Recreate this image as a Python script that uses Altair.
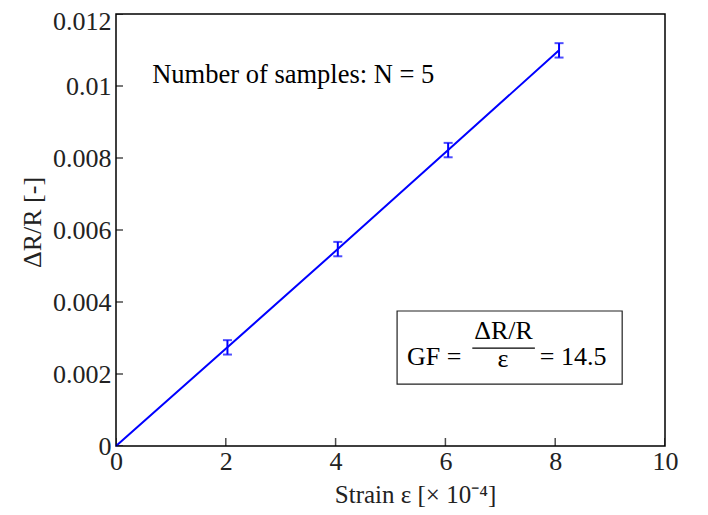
import altair as alt
import pandas as pd

# data
strain = [0, 2.03, 4.04, 6.05, 8.07]
dr_r = [0.0, 0.00274, 0.00547, 0.00822, 0.01099]
err = [0.0, 0.0002, 0.0002, 0.0002, 0.0002]

x_ticks = [0, 2, 4, 6, 8, 10]
y_ticks = [0, 0.002, 0.004, 0.006, 0.008, 0.010, 0.012]

FONT = "Liberation Serif"
BLUE = "#0000ff"

df = pd.DataFrame({"x": strain, "y": dr_r, "e": err})
df["lo"] = df["y"] - df["e"]
df["hi"] = df["y"] + df["e"]
pts = df[df["e"] > 0]

xs = alt.Scale(domain=[0, 10], nice=False, zero=False)
ys = alt.Scale(domain=[0, 0.012], nice=False, zero=False)

x_axis = alt.Axis(values=x_ticks, format="d", ticks=False, tickSize=0, grid=False,
                  labelFont=FONT, labelFontSize=26, labelColor="#222", labelPadding=2,
                  labelFlush=False, labelOverlap=False,
                  title="Strain ε [× 10⁻⁴]", titleFont=FONT, titleFontSize=25,
                  titleFontWeight="normal", titleColor="#222", titlePadding=8,
                  titleX=299, titleAlign="center",
                  domain=False)
y_axis = alt.Axis(values=y_ticks, format="~g", ticks=False, tickSize=0, grid=False,
                  labelFont=FONT, labelFontSize=26, labelColor="#222", labelPadding=5,
                  labelFlush=False, labelOverlap=False,
                  labelOffset={"condition": {"test": "datum.value >= 0.0119", "value": 7}, "value": 0},
                  title="ΔR/R [-]", titleFont=FONT, titleFontSize=26,
                  titleFontWeight="normal", titleColor="#222", titlePadding=7,
                  titleY=208, titleAlign="center",
                  domain=False)

base = alt.Chart(df)

line = base.mark_line(color=BLUE, strokeWidth=2).encode(
    x=alt.X("x:Q", scale=xs, axis=x_axis),
    y=alt.Y("y:Q", scale=ys, axis=y_axis),
)

ebar = alt.Chart(pts).mark_rule(color=BLUE, strokeWidth=2).encode(
    x=alt.X("x:Q", scale=xs), y=alt.Y("lo:Q", scale=ys), y2="hi:Q"
)
cap_lo = alt.Chart(pts).mark_tick(color=BLUE, orient="horizontal", size=9, thickness=2).encode(
    x=alt.X("x:Q", scale=xs), y=alt.Y("lo:Q", scale=ys)
)
cap_hi = alt.Chart(pts).mark_tick(color=BLUE, orient="horizontal", size=9, thickness=2).encode(
    x=alt.X("x:Q", scale=xs), y=alt.Y("hi:Q", scale=ys)
)

xt = alt.Chart(pd.DataFrame({"t": x_ticks})).mark_tick(
    color="black", orient="vertical", size=16, thickness=1.5, clip=True
).encode(x=alt.X("t:Q", scale=xs), y=alt.datum(0, scale=ys))
yt = alt.Chart(pd.DataFrame({"t": y_ticks})).mark_tick(
    color="black", orient="horizontal", size=14, thickness=1.5, clip=True
).encode(y=alt.Y("t:Q", scale=ys), x=alt.datum(0, scale=xs))

ann = alt.Chart(pd.DataFrame({"a": [0]}))

samples = ann.mark_text(font=FONT, fontSize=26.5, align="left", baseline="alphabetic",
                        color="black", text="Number of samples: N = 5").encode(
    x=alt.datum(0.66), y=alt.datum(0.01008))

box = ann.mark_rect(fill="white", stroke="#222", strokeWidth=1.2).encode(
    x=alt.datum(5.12), x2=alt.datum(9.22), y=alt.datum(0.00172), y2=alt.datum(0.00375))
gf = ann.mark_text(font=FONT, fontSize=26, align="left", baseline="alphabetic",
                   color="black", text="GF =").encode(x=alt.datum(5.30), y=alt.datum(0.00225))
num = ann.mark_text(font=FONT, fontSize=26, align="center", baseline="alphabetic",
                    color="black", text="ΔR/R").encode(x=alt.datum(7.06), y=alt.datum(0.00297))
frac = ann.mark_rule(color="black", strokeWidth=1.2).encode(
    x=alt.datum(6.49), x2=alt.datum(7.63), y=alt.datum(0.00272))
den = ann.mark_text(font=FONT, fontSize=26, align="center", baseline="alphabetic",
                    color="black", text="ε").encode(x=alt.datum(7.05), y=alt.datum(0.00219))
val = ann.mark_text(font=FONT, fontSize=26, align="left", baseline="alphabetic",
                    color="black", text="= 14.5").encode(x=alt.datum(7.72), y=alt.datum(0.00225))

chart = alt.layer(
    line, ebar, cap_lo, cap_hi, xt, yt, samples, box, gf, num, frac, den, val
).properties(
    width=549, height=432,
    autosize=alt.AutoSizeParams(type="none"),
    padding={"left": 108, "top": 6, "right": 35, "bottom": 61},
    background="white",
).configure_view(
    stroke="black", strokeWidth=1.5
)

chart.save("out.html", embed_options={"renderer": "svg", "actions": False})
